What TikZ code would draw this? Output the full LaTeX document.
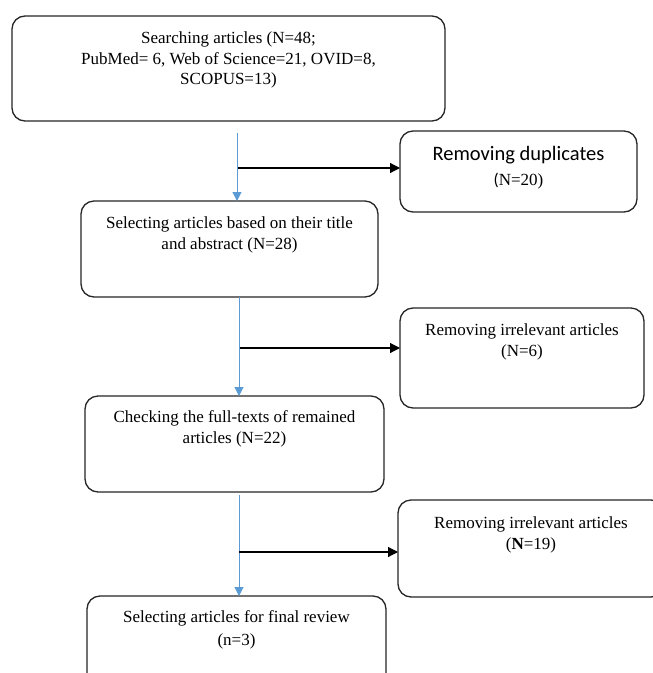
\documentclass[tikz,border=0pt]{standalone}
\usepackage{fontspec}
\setmainfont{Liberation Serif}
\newfontfamily\calibfont{Carlito}
\usetikzlibrary{arrows.meta}
\definecolor{flowblue}{HTML}{5B9BD5}
\newcommand\boxtext[4]{\parbox[c][#2pt][t]{#1pt}{\vspace*{#3pt}\centering #4\par}}
\begin{document}
\begin{tikzpicture}[x=1pt,y=-1pt,
  box/.style={draw=black!85, line width=1.3pt, rounded corners=13pt, inner sep=0pt, outer sep=0pt, anchor=north west,
    font=\fontsize{17}{20.5}\selectfont},
  bluearr/.style={draw=flowblue, line width=1pt, -{Triangle[length=9pt,width=9pt]}},
  blackarr/.style={draw=black, line width=1.2pt, -{Triangle[length=10pt,width=10pt]}}]
\fill[white] (0,0) rectangle (653,673);
\clip (0,0) rectangle (653,673);

\node[box] (b1) at (12,16) {\boxtext{433}{105}{16}{Searching articles (N=48;\\PubMed= 6, Web of Science=21, OVID=8,\\SCOPUS=13)}};
\node[box] (d1) at (400,131) {\boxtext{237}{81}{15}{{\calibfont\fontsize{20.5}{25}\selectfont Removing duplicates\par}\vspace{5pt}{\calibfont (}N=20)}};
\node[box] (b2) at (81,201) {\boxtext{297}{96}{16}{Selecting articles based on their title\\and abstract (N=28)}};
\node[box] (d2) at (400,308) {\boxtext{244}{100}{16}{Removing irrelevant articles\\(N=6)}};
\node[box] (b3) at (85,396) {\boxtext{299}{96}{15}{Checking the full-texts of remained\\articles (N=22)}};
\node[box] (d3) at (398,500) {\boxtext{266}{97}{17}{Removing irrelevant articles\\(\textbf{N}=19)}};
\node[box] (b4) at (87,596) {\boxtext{299}{110}{15}{\fontsize{17}{22.5}\selectfont Selecting articles for final review\\(n=3)}};

\coordinate (s1) at (237,133);
\coordinate (j1) at (238,168);
\coordinate (s2) at (239,297);
\coordinate (j2) at (240,348);
\coordinate (s3) at (239,495);
\coordinate (j3) at (239,552);

\draw[bluearr] (s1) -- (s1 |- b2.north);
\draw[blackarr] (j1) -- (j1 -| d1.west);
\draw[bluearr] (s2) -- (s2 |- b3.north);
\draw[blackarr] (j2) -- (j2 -| d2.west);
\draw[bluearr] (s3) -- (s3 |- b4.north);
\draw[blackarr] (j3) -- (j3 -| d3.west);
\end{tikzpicture}
\end{document}
